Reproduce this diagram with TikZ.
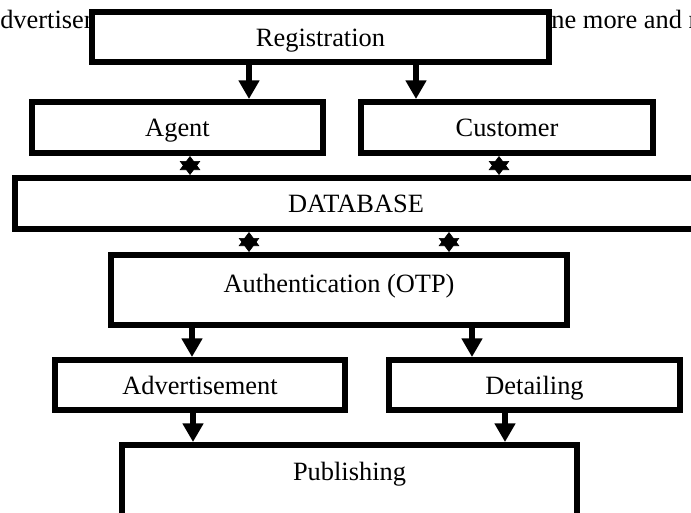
\documentclass[tikz,border=0pt]{standalone}
\usepackage{fontspec}
\setmainfont{Liberation Serif}
\usetikzlibrary{arrows.meta,positioning}
\tikzstyle{block} = [rectangle, draw=black, fill=white, line width=4.5pt, inner sep=0pt, text centered, text height=13.5pt, text depth=0pt, font=\fontsize{19.8pt}{22pt}\selectfont]
\tikzstyle{backtext} = [anchor=base west, inner sep=0pt, font=\fontsize{19.8pt}{22pt}\selectfont]
\tikzstyle{arrow} = [line width=4.5pt, -{Triangle[length=14pt,width=15pt]}]
\tikzstyle{link} = [line width=0.5pt, {Triangle[length=10.5pt,width=15.5pt]}-{Triangle[length=10.5pt,width=15.5pt]}]

\begin{document}
\begin{tikzpicture}
		[x=0.75pt, y=-0.75pt]
		\useasboundingbox (0,0) rectangle (691,512);
		\clip (0,0) rectangle (691,512);
		\node[backtext] (textleft) at (0,28) {dvertisement};
		\node[backtext] (textright) at (538,28) {one more and more};
		
		\node[block, minimum width=342.75pt, minimum height=37.5pt] (reg) at (320.5,37) {Registration};
		\node[block, minimum width=218.25pt, minimum height=38.25pt] (agent) at (177.5,127.5) {Agent};
		\node[block, minimum width=219pt, minimum height=38.25pt] (cust) at (507,127.5) {Customer};
		\node[block, minimum width=511.5pt, minimum height=38.25pt] (db) at (356,203.5) {DATABASE};
		\node[block, minimum width=342pt, minimum height=52.5pt, text depth=10.5pt] (auth) at (339,290) {Authentication (OTP)};
		\node[block, minimum width=217.5pt, minimum height=37.5pt] (adv) at (200,385) {Advertisement};
		\node[block, minimum width=218.25pt, minimum height=37.5pt] (det) at (534.5,385) {Detailing};
		\node[block, anchor=north, minimum width=341.25pt, inner ysep=13pt, text depth=80pt] (pub) at (349.5,442) {Publishing};
		
		\draw[arrow] (249,0 |- reg.south) -- (249,0 |- agent.north);
		\draw[arrow] (416,0 |- reg.south) -- (416,0 |- cust.north);
		\draw[link] (190,0 |- agent.south) -- (190,0 |- db.north);
		\draw[link] (499,0 |- cust.south) -- (499,0 |- db.north);
		\draw[link] (249,0 |- db.south) -- (249,0 |- auth.north);
		\draw[link] (449,0 |- db.south) -- (449,0 |- auth.north);
		\draw[arrow] (192,0 |- auth.south) -- (192,0 |- adv.north);
		\draw[arrow] (472,0 |- auth.south) -- (472,0 |- det.north);
		\draw[arrow] (193,0 |- adv.south) -- (193,0 |- pub.north);
		\draw[arrow] (505,0 |- det.south) -- (505,0 |- pub.north);
		\end{tikzpicture}
\end{document}
